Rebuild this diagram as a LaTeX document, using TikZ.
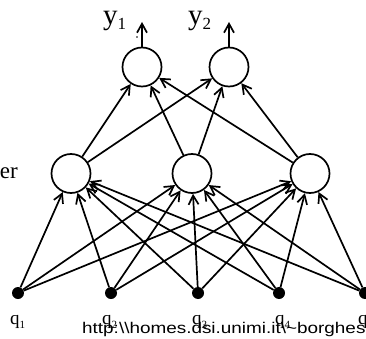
\documentclass[tikz,border=0pt]{standalone}
\usepackage{fontspec}
\setmainfont{Liberation Serif}
\newfontfamily\urlfont{Liberation Sans}
\usetikzlibrary{arrows.meta}

\newcommand{\qlab}[1]{\fontsize{19}{19}\selectfont q\raisebox{-4pt}{\fontsize{11}{11}\selectfont #1}}
\newcommand{\ylab}[1]{\fontsize{29}{29}\selectfont y\raisebox{-5pt}{\fontsize{17}{17}\selectfont #1}}

\tikzset{
  neuron/.style={circle, draw, line width=1.7pt, minimum size=39pt, inner sep=0pt},
  inputdot/.style={circle, fill, minimum size=12pt, inner sep=0pt},
  link/.style={line width=1.7pt, -{Straight Barb[length=9pt,width=10pt,line width=1.7pt]}},
  lab/.style={inner sep=0pt, anchor=base west},
}

\begin{document}
\begin{tikzpicture}[x=1pt,y=-1pt]
  \useasboundingbox (0,0) rectangle (366,339);

  % output layer
  \node[neuron] (o1) at (142,67) {};
  \node[neuron] (o2) at (229,67) {};
  \coordinate (t1) at (142,22);
  \coordinate (t2) at (229,22);

  % hidden layer
  \node[neuron] (h1) at (71,173.5) {};
  \node[neuron] (h2) at (192,173.5) {};
  \node[neuron] (h3) at (310,173.5) {};

  % input units
  \node[inputdot] (i1) at (18,293) {};
  \node[inputdot] (i2) at (111,293) {};
  \node[inputdot] (i3) at (198,293) {};
  \node[inputdot] (i4) at (279,293) {};
  \node[inputdot] (i5) at (365,293) {};

  % connections
  \foreach \i in {1,...,5}
    \foreach \j in {1,2,3}
      \draw[link] (i\i) -- (h\j);
  \foreach \j in {1,2,3}
    \foreach \k in {1,2}
      \draw[link] (h\j) -- (o\k);
  \draw[link] (o1) -- (t1);
  \draw[link] (o2) -- (t2);

  % labels
  \node[lab] (ly1) at (103,25) {\ylab{1}};
  \node[lab] (ly2) at (188,25) {\ylab{2}};
  \fill (137,37) circle (0.8);
  \node[inner sep=0pt, anchor=base east] (ler) at (18,178) {\fontsize{23}{23}\selectfont er};

  \node[lab] (q1) at (10,324) {\qlab{1}};
  \node[lab] (q2) at (102,324) {\qlab{2}};
  \node[lab] (q3) at (192,324) {\qlab{3}};
  \node[lab] (q4) at (275,324) {\qlab{4}};
  \node[lab] (q5) at (358,324) {\qlab{5}};

  \node[lab] (url) at (82,333) {\urlfont\fontsize{15.5}{15.5}\selectfont\scalebox{1.22}[1]{http:\textbackslash\textbackslash homes.dsi.unimi.it\textbackslash\textasciitilde borghese}};
\end{tikzpicture}
\end{document}
